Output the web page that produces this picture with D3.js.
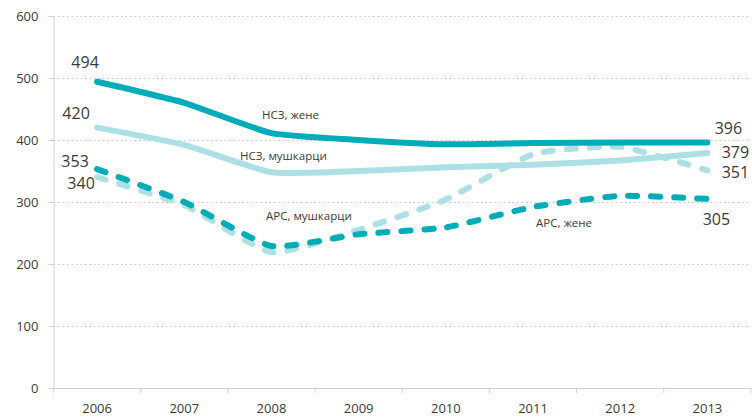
<!DOCTYPE html>
<html>
<head>
<meta charset="utf-8">
<script src="https://cdn.jsdelivr.net/npm/d3@7"></script>
<style>
  html, body { margin: 0; padding: 0; background: #fff; }
  svg { display: block; font-family: "Open Sans", "Noto Sans", sans-serif; }
</style>
</head>
<body>
<svg id="chart" width="752" height="420"></svg>
<script>
// Categories and tick values
const years = ["2006", "2007", "2008", "2009", "2010", "2011", "2012", "2013"];
const yTicks = [0, 100, 200, 300, 400, 500, 600];

// Series values
const nszWomen = [494, 460, 411, 400, 393, 395, 396, 396];
const nszMen   = [420, 392, 348, 350, 356, 360, 367, 379];
const arsMen   = [340, 295, 219, 255, 304, 377, 389, 351];
const arsWomen = [353, 300, 229, 248, 259, 292, 310, 305];

// Series names shown as annotations
const seriesNames = ["НСЗ, жене", "НСЗ, мушкарци", "АРС, мушкарци", "АРС, жене"];

const svg = d3.select("#chart");
const plotLeft = 53.5, plotRight = 751, plotTop = 16, plotBottom = 388;

const xBand = d3.scaleBand().domain(years).range([plotLeft, plotRight]);
const x = d => xBand(d) + xBand.bandwidth() / 2;
const y = d3.scaleLinear().domain([0, 600]).range([plotBottom, plotTop]);

const dark = "#00acb8";
const light = "#ade0e5";
const textColor = "#3a3a3a";

// Dotted horizontal gridlines
svg.append("g")
  .selectAll("line")
  .data(yTicks.filter(t => t > 0))
  .join("line")
  .attr("x1", plotLeft).attr("x2", plotRight)
  .attr("y1", d => Math.round(y(d)) + 0.5).attr("y2", d => Math.round(y(d)) + 0.5)
  .attr("stroke", "#c4c4c4")
  .attr("stroke-width", 1)
  .attr("stroke-dasharray", "1.5,3");

// Y axis
const yAxis = svg.append("g")
  .attr("transform", `translate(${plotLeft},0)`)
  .call(d3.axisLeft(y).tickValues(yTicks).tickSize(5).tickPadding(10));
yAxis.select(".domain").attr("stroke", "#d0d0d0");
yAxis.selectAll(".tick line").attr("stroke", "#d0d0d0");
yAxis.selectAll(".tick text")
  .attr("fill", textColor)
  .style("font-size", "13px")
  .style("font-family", "'Open Sans', sans-serif");

// X axis with tick marks between categories
const xAxis = svg.append("g")
  .attr("transform", `translate(0,${plotBottom})`)
  .call(d3.axisBottom(xBand).tickSize(0).tickPadding(16));
xAxis.select(".domain").attr("stroke", "#d0d0d0");
xAxis.selectAll(".tick text")
  .attr("fill", textColor)
  .style("font-size", "13px")
  .style("font-family", "'Open Sans', sans-serif");
svg.append("g")
  .selectAll("line")
  .data(years.concat(["end"]))
  .join("line")
  .attr("x1", (d, i) => plotLeft + i * xBand.step())
  .attr("x2", (d, i) => plotLeft + i * xBand.step())
  .attr("y1", plotBottom).attr("y2", plotBottom + 5)
  .attr("stroke", "#d0d0d0");

// Lines (lightly smoothed)
const line = d3.line()
  .x((d, i) => x(years[i]))
  .y(d => y(d))
  .curve(d3.curveCardinal.tension(0.5));

const series = [
  { values: nszMen,   color: light, dash: null },
  { values: arsMen,   color: light, dash: "9,14" },
  { values: arsWomen, color: dark,  dash: "9,14" },
  { values: nszWomen, color: dark,  dash: null }
];

svg.append("g")
  .selectAll("path")
  .data(series)
  .join("path")
  .attr("d", d => line(d.values))
  .attr("fill", "none")
  .attr("stroke", d => d.color)
  .attr("stroke-width", 6)
  .attr("stroke-linecap", "round")
  .attr("stroke-linejoin", "round")
  .attr("stroke-dasharray", d => d.dash);

// Start and end value labels
const last = years.length - 1;
const valueLabels = [
  { v: nszWomen[0],  cx: x(years[0]) - 12, cy: y(nszWomen[0]) - 19 },
  { v: nszMen[0],    cx: x(years[0]) - 21, cy: y(nszMen[0]) - 14 },
  { v: arsWomen[0],  cx: x(years[0]) - 22, cy: y(arsWomen[0]) - 8 },
  { v: arsMen[0],    cx: x(years[0]) - 16, cy: y(arsMen[0]) + 6 },
  { v: nszWomen[last], cx: x(years[last]) + 21, cy: y(nszWomen[last]) - 14 },
  { v: nszMen[last],   cx: x(years[last]) + 28, cy: y(nszMen[last]) - 1 },
  { v: arsMen[last],   cx: x(years[last]) + 28, cy: y(arsMen[last]) + 2 },
  { v: arsWomen[last], cx: x(years[last]) + 9,  cy: y(arsWomen[last]) + 20 }
];
svg.append("g")
  .selectAll("text")
  .data(valueLabels)
  .join("text")
  .attr("x", d => d.cx)
  .attr("y", d => d.cy)
  .attr("text-anchor", "middle")
  .attr("dy", "0.35em")
  .attr("fill", textColor)
  .style("font-size", "16px")
  .text(d => d.v);

// Series name annotations
const nameLabels = [
  { t: seriesNames[0], lx: 262, ly: y(nszWomen[2]) - 14 },
  { t: seriesNames[1], lx: 240, ly: y(nszMen[2]) - 12 },
  { t: seriesNames[2], lx: 266, ly: y(arsMen[2]) - 32 },
  { t: seriesNames[3], lx: 536, ly: y(arsWomen[5]) + 20 }
];
svg.append("g")
  .selectAll("text")
  .data(nameLabels)
  .join("text")
  .attr("x", d => d.lx)
  .attr("y", d => d.ly)
  .attr("fill", textColor)
  .style("font-size", "11.5px")
  .text(d => d.t);
</script>
</body>
</html>
